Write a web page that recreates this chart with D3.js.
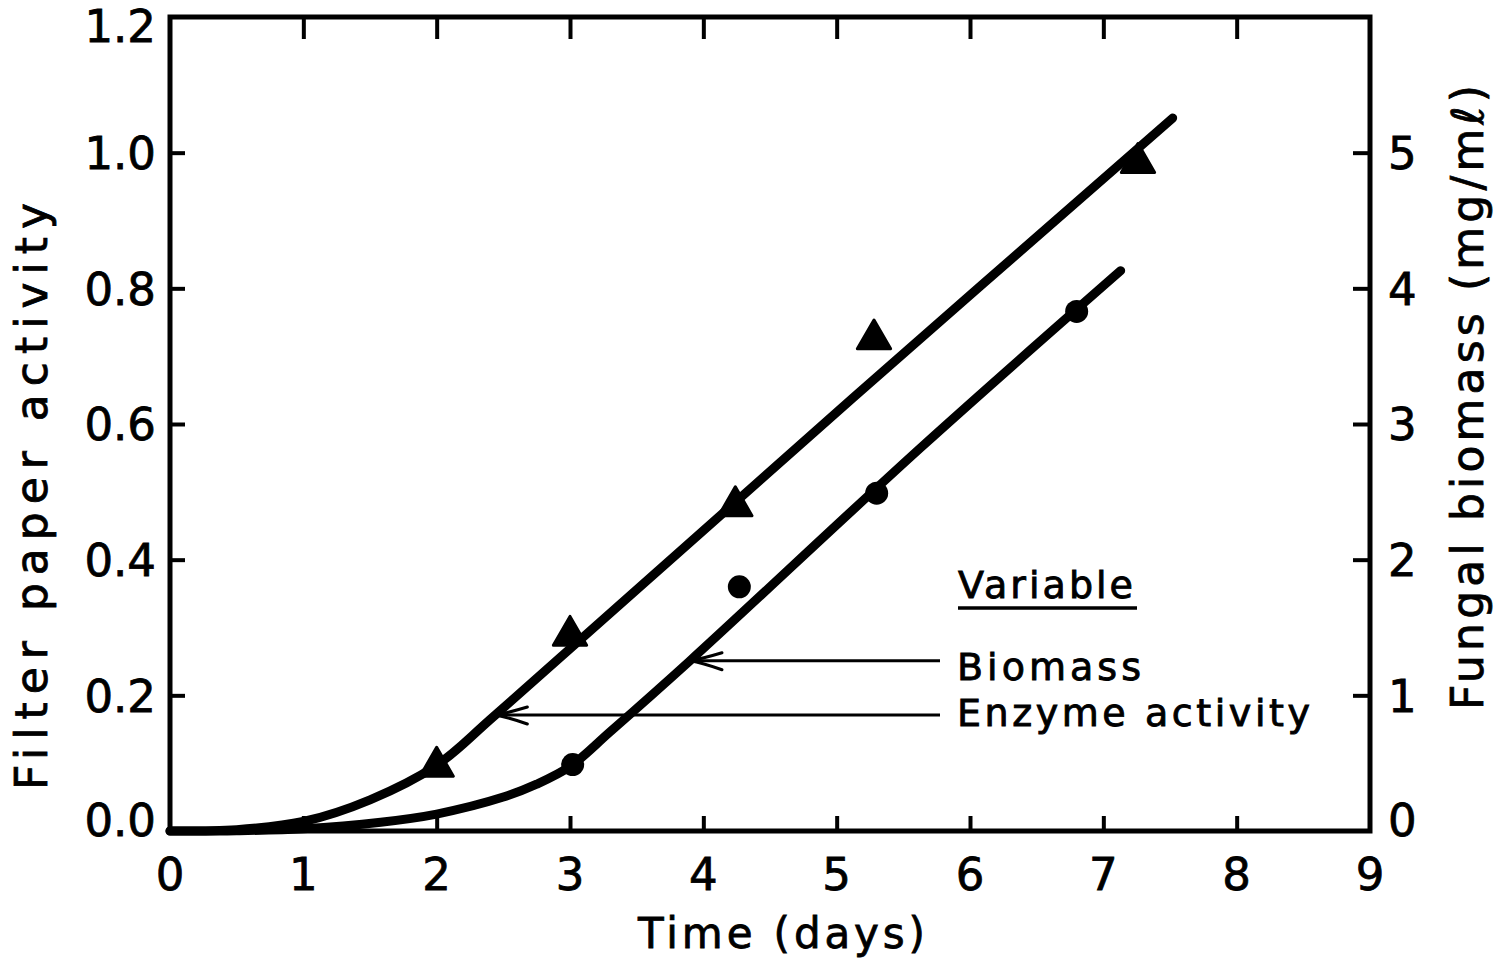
<!DOCTYPE html>
<html>
<head>
<meta charset="utf-8">
<script src="https://cdn.jsdelivr.net/npm/d3@7/dist/d3.min.js"></script>
<style>
  html, body { margin: 0; padding: 0; background: #fff; }
  svg { display: block; }
  text { font-family: "DejaVu Sans", sans-serif; fill: #000; }
</style>
</head>
<body>
<svg id="chart" width="1501" height="959"></svg>
<script>
// Time axis (days) and the two measured variables
const timeTicks = [0, 1, 2, 3, 4, 5, 6, 7, 8, 9];
const activityTicks = [0.0, 0.2, 0.4, 0.6, 0.8, 1.0, 1.2];
const activityLabels = ["0.0", "0.2", "0.4", "0.6", "0.8", "1.0", "1.2"];
const biomassTicks = [0, 1, 2, 3, 4, 5];

// Filter paper (enzyme) activity, measured points
const enzymeDays = [2.0, 3.0, 4.24, 5.28, 7.26];
const enzymeActivity = [0.095, 0.288, 0.479, 0.725, 0.985];

// Fungal biomass (mg/mℓ), measured points
const biomassDays = [3.02, 4.27, 5.30, 6.80];
const biomassValues = [0.49, 1.80, 2.49, 3.83];

// Hand-fitted curves through each series
const enzymeFitDays = [0, 0.5, 1.0, 1.5, 2.0, 2.44, 5.12, 7.52];
const enzymeFitValues = [0, 0.002, 0.014, 0.046, 0.097, 0.171, 0.638, 1.051];
const biomassFitDays = [0, 0.5, 1.0, 1.58, 2.0, 2.5, 2.75, 3.0, 3.3, 3.9, 5.63, 7.13];
const biomassFitValues = [0, 0.002, 0.017, 0.065, 0.125, 0.25, 0.345, 0.475, 0.73, 1.255, 2.825, 4.13];

// Points on each curve where the legend arrows land
const biomassArrowAt = [3.9, 1.255];
const enzymeArrowAt = [2.44, 0.171];

const svg = d3.select("#chart");
const plotLeft = 170, plotRight = 1370, plotTop = 17, plotBottom = 831;

const x = d3.scaleLinear().domain([0, 9]).range([plotLeft, plotRight]);
const yL = d3.scaleLinear().domain([0, 1.2]).range([plotBottom, plotTop]);
const yR = d3.scaleLinear().domain([0, 6]).range([plotBottom, plotTop]);

const TXT = 45;

// Frame
svg.append("rect")
  .attr("x", plotLeft).attr("y", plotTop)
  .attr("width", plotRight - plotLeft).attr("height", plotBottom - plotTop)
  .attr("fill", "none").attr("stroke", "#000").attr("stroke-width", 5);

// Bottom axis: inward ticks
const bottomAxis = d3.axisBottom(x).tickValues(timeTicks.slice(1, -1))
  .tickSizeInner(-15).tickSizeOuter(0).tickFormat("");
const gB = svg.append("g").attr("transform", `translate(0,${plotBottom})`).call(bottomAxis);
// Top axis: inward ticks only
const topAxis = d3.axisTop(x).tickValues(timeTicks.slice(1, -1))
  .tickSizeInner(-22).tickSizeOuter(0).tickFormat("");
const gT = svg.append("g").attr("transform", `translate(0,${plotTop})`).call(topAxis);
// Left axis ticks
const leftAxis = d3.axisLeft(yL).tickValues(activityTicks.slice(1, -1))
  .tickSizeInner(-15).tickSizeOuter(0).tickFormat("");
const gL = svg.append("g").attr("transform", `translate(${plotLeft},0)`).call(leftAxis);
// Right axis ticks
const rightAxis = d3.axisRight(yR).tickValues(biomassTicks.slice(1))
  .tickSizeInner(-17).tickSizeOuter(0).tickFormat("");
const gR = svg.append("g").attr("transform", `translate(${plotRight},0)`).call(rightAxis);

[gB, gT, gL, gR].forEach(g => {
  g.select(".domain").remove();
  g.selectAll(".tick line").attr("stroke", "#000").attr("stroke-width", 4);
});

// Tick labels
svg.append("g").selectAll("text").data(timeTicks).join("text")
  .attr("x", d => x(d)).attr("y", plotBottom + 59)
  .attr("text-anchor", "middle").attr("font-size", TXT)
  .attr("stroke", "#000").attr("stroke-width", 0.8)
  .text(d => d);

svg.append("g").selectAll("text").data(activityTicks).join("text")
  .attr("x", plotLeft - 14)
  .attr("y", (d, i) => yL(d) + (i === 0 ? -11 : i === activityTicks.length - 1 ? 9 : 0))
  .attr("dy", "0.36em")
  .attr("text-anchor", "end").attr("font-size", TXT)
  .attr("stroke", "#000").attr("stroke-width", 0.8)
  .text((d, i) => activityLabels[i]);

svg.append("g").selectAll("text").data(biomassTicks).join("text")
  .attr("x", plotRight + 18)
  .attr("y", (d, i) => yR(d) + (i === 0 ? -11 : 0))
  .attr("dy", "0.36em")
  .attr("text-anchor", "start").attr("font-size", TXT)
  .attr("stroke", "#000").attr("stroke-width", 0.8)
  .text(d => d);

// Axis titles
svg.append("text")
  .attr("transform", `translate(47,${(203 + 790) / 2}) rotate(-90)`)
  .attr("text-anchor", "middle").attr("font-size", 44)
  .attr("stroke", "#000").attr("stroke-width", 0.8)
  .attr("textLength", 587).attr("lengthAdjust", "spacing")
  .text("Filter paper activity");

svg.append("text")
  .attr("transform", `translate(1483,${(85 + 710) / 2}) rotate(-90)`)
  .attr("text-anchor", "middle").attr("font-size", 44)
  .attr("stroke", "#000").attr("stroke-width", 0.8)
  .attr("textLength", 625).attr("lengthAdjust", "spacing")
  .text("Fungal biomass (mg/mℓ)");

svg.append("text")
  .attr("x", (638 + 925) / 2).attr("y", 948)
  .attr("text-anchor", "middle").attr("font-size", 42)
  .attr("stroke", "#000").attr("stroke-width", 0.8)
  .attr("textLength", 287).attr("lengthAdjust", "spacing")
  .text("Time (days)");

// Fitted curves
const smooth = d3.curveCatmullRom.alpha(0.5);
const enzymeLine = d3.line().x(d => x(d[0])).y(d => yL(d[1])).curve(smooth);
const biomassLine = d3.line().x(d => x(d[0])).y(d => yR(d[1])).curve(smooth);

svg.append("path")
  .datum(enzymeFitDays.map((d, i) => [d, enzymeFitValues[i]]))
  .attr("d", enzymeLine)
  .attr("fill", "none").attr("stroke", "#000").attr("stroke-width", 9)
  .attr("stroke-linecap", "round").attr("stroke-linejoin", "round");

svg.append("path")
  .datum(biomassFitDays.map((d, i) => [d, biomassFitValues[i]]))
  .attr("d", biomassLine)
  .attr("fill", "none").attr("stroke", "#000").attr("stroke-width", 9)
  .attr("stroke-linecap", "round").attr("stroke-linejoin", "round");

// Markers: triangles for enzyme activity, filled circles for biomass
const tri = d3.symbol().type(d3.symbolTriangle).size(480);
svg.append("g").selectAll("path").data(enzymeDays).join("path")
  .attr("transform", (d, i) => `translate(${x(d)},${yL(enzymeActivity[i])})`)
  .attr("d", tri)
  .attr("fill", "#000").attr("stroke", "#000").attr("stroke-width", 3)
  .attr("stroke-linejoin", "round");

svg.append("g").selectAll("circle").data(biomassDays).join("circle")
  .attr("cx", d => x(d)).attr("cy", (d, i) => yR(biomassValues[i]))
  .attr("r", 11.5).attr("fill", "#000");

// Legend
const LEG = 38;
const lg = svg.append("g");
lg.append("text")
  .attr("x", 958).attr("y", 598).attr("font-size", LEG)
  .attr("stroke", "#000").attr("stroke-width", 0.9)
  .attr("textLength", 175).attr("lengthAdjust", "spacing")
  .text("Variable");
lg.append("line")
  .attr("x1", 958).attr("x2", 1137).attr("y1", 608).attr("y2", 608)
  .attr("stroke", "#000").attr("stroke-width", 3.5);

const legendRows = [
  { label: "Biomass", at: biomassArrowAt, scale: yR, baseline: 680, width: 184 },
  { label: "Enzyme activity", at: enzymeArrowAt, scale: yL, baseline: 726, width: 353 }
];

legendRows.forEach(r => {
  const tx = x(r.at[0]);
  const ty = r.scale(r.at[1]);
  lg.append("line")
    .attr("x1", tx).attr("x2", 940).attr("y1", ty).attr("y2", ty)
    .attr("stroke", "#000").attr("stroke-width", 3);
  lg.append("path")
    .attr("d", `M${tx + 32},${ty - 8} Q${tx + 12},${ty - 2} ${tx},${ty} Q${tx + 12},${ty + 2} ${tx + 32},${ty + 9}`)
    .attr("fill", "none").attr("stroke", "#000").attr("stroke-width", 3)
    .attr("stroke-linecap", "round");
  lg.append("text")
    .attr("x", 957).attr("y", r.baseline).attr("font-size", LEG)
    .attr("stroke", "#000").attr("stroke-width", 0.9)
    .attr("textLength", r.width).attr("lengthAdjust", "spacing")
    .text(r.label);
});
</script>
</body>
</html>
